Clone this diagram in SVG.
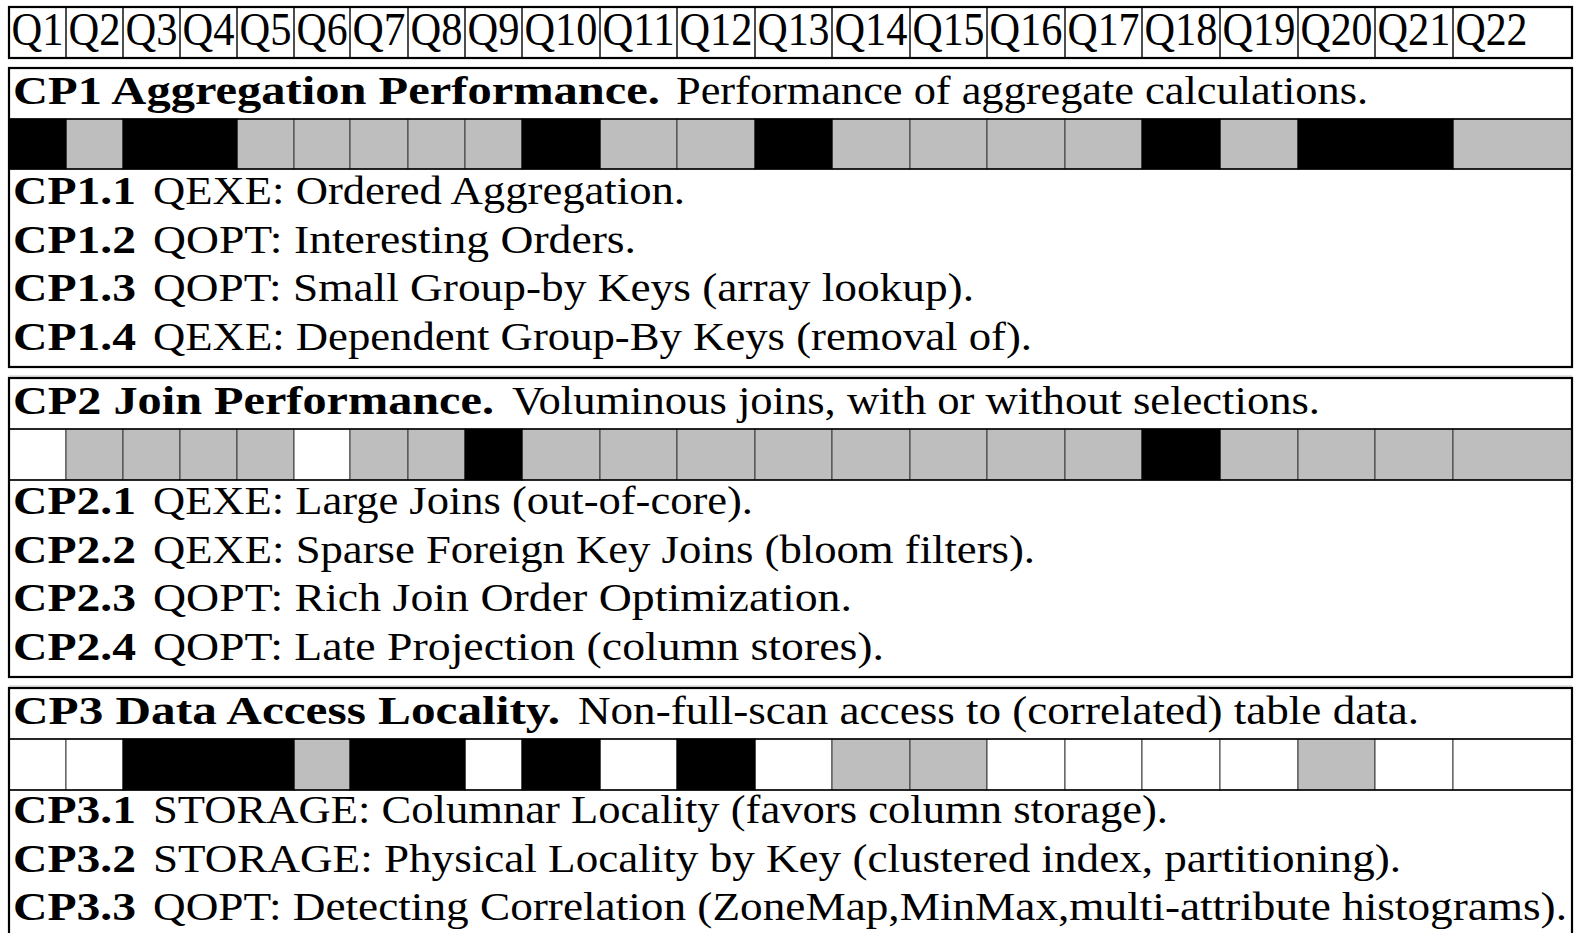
<svg xmlns="http://www.w3.org/2000/svg" width="1575" height="933" viewBox="0 0 1575 933">
<style>
text{font-family:"Liberation Serif","Times New Roman",serif;fill:#000}
.q{font-size:46px}
.b{font-size:41px;font-weight:bold}
.r{font-size:41px}
.box{fill:none;stroke:#000;stroke-width:2.2}
.sep{stroke:#000;stroke-width:1.6}
.hv{stroke:#000;stroke-width:1.4}
.k{fill:#000;stroke:#000;stroke-width:1}
.g{fill:#bebebe;stroke:#3a3a3a;stroke-width:1}
.w{fill:#fff;stroke:#3a3a3a;stroke-width:1}
.sh{stroke:#c8c8c8;stroke-width:1.2}
</style>
<rect x="0" y="0" width="1575" height="933" fill="#fff"/>
<g id="header">
<rect class="box" x="9" y="7" width="1563" height="51"/>
<line class="hv" x1="66" y1="7" x2="66" y2="58"/><line class="hv" x1="123" y1="7" x2="123" y2="58"/><line class="hv" x1="180" y1="7" x2="180" y2="58"/><line class="hv" x1="237" y1="7" x2="237" y2="58"/><line class="hv" x1="294" y1="7" x2="294" y2="58"/><line class="hv" x1="350" y1="7" x2="350" y2="58"/><line class="hv" x1="408" y1="7" x2="408" y2="58"/><line class="hv" x1="465" y1="7" x2="465" y2="58"/><line class="hv" x1="522" y1="7" x2="522" y2="58"/><line class="hv" x1="600" y1="7" x2="600" y2="58"/><line class="hv" x1="677" y1="7" x2="677" y2="58"/><line class="hv" x1="755" y1="7" x2="755" y2="58"/><line class="hv" x1="832" y1="7" x2="832" y2="58"/><line class="hv" x1="910" y1="7" x2="910" y2="58"/><line class="hv" x1="987" y1="7" x2="987" y2="58"/><line class="hv" x1="1065" y1="7" x2="1065" y2="58"/><line class="hv" x1="1142" y1="7" x2="1142" y2="58"/><line class="hv" x1="1220" y1="7" x2="1220" y2="58"/><line class="hv" x1="1298" y1="7" x2="1298" y2="58"/><line class="hv" x1="1375" y1="7" x2="1375" y2="58"/><line class="hv" x1="1453" y1="7" x2="1453" y2="58"/>
<text class="q" x="11.5" y="45" textLength="52" lengthAdjust="spacingAndGlyphs">Q1</text>
<text class="q" x="68.5" y="45" textLength="52" lengthAdjust="spacingAndGlyphs">Q2</text>
<text class="q" x="125.5" y="45" textLength="52" lengthAdjust="spacingAndGlyphs">Q3</text>
<text class="q" x="182.5" y="45" textLength="52" lengthAdjust="spacingAndGlyphs">Q4</text>
<text class="q" x="239.5" y="45" textLength="52" lengthAdjust="spacingAndGlyphs">Q5</text>
<text class="q" x="296.5" y="45" textLength="51" lengthAdjust="spacingAndGlyphs">Q6</text>
<text class="q" x="352.5" y="45" textLength="53" lengthAdjust="spacingAndGlyphs">Q7</text>
<text class="q" x="410.5" y="45" textLength="52" lengthAdjust="spacingAndGlyphs">Q8</text>
<text class="q" x="467.5" y="45" textLength="52" lengthAdjust="spacingAndGlyphs">Q9</text>
<text class="q" x="524.5" y="45" textLength="73" lengthAdjust="spacingAndGlyphs">Q10</text>
<text class="q" x="602.5" y="45" textLength="72" lengthAdjust="spacingAndGlyphs">Q11</text>
<text class="q" x="679.5" y="45" textLength="73" lengthAdjust="spacingAndGlyphs">Q12</text>
<text class="q" x="757.5" y="45" textLength="72" lengthAdjust="spacingAndGlyphs">Q13</text>
<text class="q" x="834.5" y="45" textLength="73" lengthAdjust="spacingAndGlyphs">Q14</text>
<text class="q" x="912.5" y="45" textLength="72" lengthAdjust="spacingAndGlyphs">Q15</text>
<text class="q" x="989.5" y="45" textLength="73" lengthAdjust="spacingAndGlyphs">Q16</text>
<text class="q" x="1067.5" y="45" textLength="72" lengthAdjust="spacingAndGlyphs">Q17</text>
<text class="q" x="1144.5" y="45" textLength="73" lengthAdjust="spacingAndGlyphs">Q18</text>
<text class="q" x="1222.5" y="45" textLength="73" lengthAdjust="spacingAndGlyphs">Q19</text>
<text class="q" x="1300.5" y="45" textLength="72" lengthAdjust="spacingAndGlyphs">Q20</text>
<text class="q" x="1377.5" y="45" textLength="73" lengthAdjust="spacingAndGlyphs">Q21</text>
<text class="q" x="1455.5" y="45" textLength="72" lengthAdjust="spacingAndGlyphs">Q22</text>
</g>
<g id="cp1">
<rect class="g" x="66" y="119" width="57" height="50"/><rect class="g" x="237" y="119" width="57" height="50"/><rect class="g" x="294" y="119" width="56" height="50"/><rect class="g" x="350" y="119" width="58" height="50"/><rect class="g" x="408" y="119" width="57" height="50"/><rect class="g" x="465" y="119" width="57" height="50"/><rect class="g" x="600" y="119" width="77" height="50"/><rect class="g" x="677" y="119" width="78" height="50"/><rect class="g" x="832" y="119" width="78" height="50"/><rect class="g" x="910" y="119" width="77" height="50"/><rect class="g" x="987" y="119" width="78" height="50"/><rect class="g" x="1065" y="119" width="77" height="50"/><rect class="g" x="1220" y="119" width="78" height="50"/><rect class="g" x="1453" y="119" width="119" height="50"/>
<rect class="k" x="9" y="119" width="57" height="50"/><rect class="k" x="123" y="119" width="114" height="50"/><rect class="k" x="522" y="119" width="78" height="50"/><rect class="k" x="755" y="119" width="77" height="50"/><rect class="k" x="1142" y="119" width="78" height="50"/><rect class="k" x="1298" y="119" width="155" height="50"/>
<line class="sep" x1="9" y1="119" x2="1572" y2="119"/><line class="sep" x1="9" y1="169" x2="1572" y2="169"/>
<rect class="box" x="9" y="68" width="1563" height="299"/>
<text class="b" x="13" y="104" textLength="647" lengthAdjust="spacingAndGlyphs">CP1 Aggregation Performance.</text>
<text class="r" x="676" y="104" textLength="692" lengthAdjust="spacingAndGlyphs">Performance of aggregate calculations.</text>
<text class="b" x="13" y="204" textLength="123" lengthAdjust="spacingAndGlyphs">CP1.1</text>
<text class="r" x="153" y="204" textLength="532" lengthAdjust="spacingAndGlyphs">QEXE: Ordered Aggregation.</text>
<text class="b" x="13" y="253" textLength="123" lengthAdjust="spacingAndGlyphs">CP1.2</text>
<text class="r" x="153" y="253" textLength="483" lengthAdjust="spacingAndGlyphs">QOPT: Interesting Orders.</text>
<text class="b" x="13" y="301" textLength="123" lengthAdjust="spacingAndGlyphs">CP1.3</text>
<text class="r" x="153" y="301" textLength="821" lengthAdjust="spacingAndGlyphs">QOPT: Small Group-by Keys (array lookup).</text>
<text class="b" x="13" y="350" textLength="123" lengthAdjust="spacingAndGlyphs">CP1.4</text>
<text class="r" x="153" y="350" textLength="879" lengthAdjust="spacingAndGlyphs">QEXE: Dependent Group-By Keys (removal of).</text>
</g>
<line class="sh" x1="9" y1="376" x2="1572" y2="376"/>
<g id="cp2">
<rect class="w" x="9" y="429" width="57" height="51"/><rect class="g" x="66" y="429" width="57" height="51"/><rect class="g" x="123" y="429" width="57" height="51"/><rect class="g" x="180" y="429" width="57" height="51"/><rect class="g" x="237" y="429" width="57" height="51"/><rect class="w" x="294" y="429" width="56" height="51"/><rect class="g" x="350" y="429" width="58" height="51"/><rect class="g" x="408" y="429" width="57" height="51"/><rect class="g" x="522" y="429" width="78" height="51"/><rect class="g" x="600" y="429" width="77" height="51"/><rect class="g" x="677" y="429" width="78" height="51"/><rect class="g" x="755" y="429" width="77" height="51"/><rect class="g" x="832" y="429" width="78" height="51"/><rect class="g" x="910" y="429" width="77" height="51"/><rect class="g" x="987" y="429" width="78" height="51"/><rect class="g" x="1065" y="429" width="77" height="51"/><rect class="g" x="1220" y="429" width="78" height="51"/><rect class="g" x="1298" y="429" width="77" height="51"/><rect class="g" x="1375" y="429" width="78" height="51"/><rect class="g" x="1453" y="429" width="119" height="51"/>
<rect class="k" x="465" y="429" width="57" height="51"/><rect class="k" x="1142" y="429" width="78" height="51"/>
<line class="sep" x1="9" y1="429" x2="1572" y2="429"/><line class="sep" x1="9" y1="480" x2="1572" y2="480"/>
<rect class="box" x="9" y="378" width="1563" height="299"/>
<text class="b" x="13" y="414" textLength="481" lengthAdjust="spacingAndGlyphs">CP2 Join Performance.</text>
<text class="r" x="512" y="414" textLength="808" lengthAdjust="spacingAndGlyphs">Voluminous joins, with or without selections.</text>
<text class="b" x="13" y="514" textLength="123" lengthAdjust="spacingAndGlyphs">CP2.1</text>
<text class="r" x="153" y="514" textLength="600" lengthAdjust="spacingAndGlyphs">QEXE: Large Joins (out-of-core).</text>
<text class="b" x="13" y="563" textLength="123" lengthAdjust="spacingAndGlyphs">CP2.2</text>
<text class="r" x="153" y="563" textLength="882" lengthAdjust="spacingAndGlyphs">QEXE: Sparse Foreign Key Joins (bloom filters).</text>
<text class="b" x="13" y="611" textLength="123" lengthAdjust="spacingAndGlyphs">CP2.3</text>
<text class="r" x="153" y="611" textLength="699" lengthAdjust="spacingAndGlyphs">QOPT: Rich Join Order Optimization.</text>
<text class="b" x="13" y="660" textLength="123" lengthAdjust="spacingAndGlyphs">CP2.4</text>
<text class="r" x="153" y="660" textLength="731" lengthAdjust="spacingAndGlyphs">QOPT: Late Projection (column stores).</text>
</g>
<line class="sh" x1="9" y1="686" x2="1572" y2="686"/>
<g id="cp3">
<rect class="w" x="9" y="739" width="57" height="51"/><rect class="w" x="66" y="739" width="57" height="51"/><rect class="g" x="294" y="739" width="56" height="51"/><rect class="w" x="465" y="739" width="57" height="51"/><rect class="w" x="600" y="739" width="77" height="51"/><rect class="w" x="755" y="739" width="77" height="51"/><rect class="g" x="832" y="739" width="78" height="51"/><rect class="g" x="910" y="739" width="77" height="51"/><rect class="w" x="987" y="739" width="78" height="51"/><rect class="w" x="1065" y="739" width="77" height="51"/><rect class="w" x="1142" y="739" width="78" height="51"/><rect class="w" x="1220" y="739" width="78" height="51"/><rect class="g" x="1298" y="739" width="77" height="51"/><rect class="w" x="1375" y="739" width="78" height="51"/><rect class="w" x="1453" y="739" width="119" height="51"/>
<rect class="k" x="123" y="739" width="171" height="51"/><rect class="k" x="350" y="739" width="115" height="51"/><rect class="k" x="522" y="739" width="78" height="51"/><rect class="k" x="677" y="739" width="78" height="51"/>
<line class="sep" x1="9" y1="739" x2="1572" y2="739"/><line class="sep" x1="9" y1="790" x2="1572" y2="790"/>
<rect class="box" x="9" y="688" width="1563" height="260"/>
<text class="b" x="13" y="724" textLength="547" lengthAdjust="spacingAndGlyphs">CP3 Data Access Locality.</text>
<text class="r" x="578" y="724" textLength="841" lengthAdjust="spacingAndGlyphs">Non-full-scan access to (correlated) table data.</text>
<text class="b" x="13" y="823" textLength="123" lengthAdjust="spacingAndGlyphs">CP3.1</text>
<text class="r" x="153" y="823" textLength="1015" lengthAdjust="spacingAndGlyphs">STORAGE: Columnar Locality (favors column storage).</text>
<text class="b" x="13" y="872" textLength="123" lengthAdjust="spacingAndGlyphs">CP3.2</text>
<text class="r" x="153" y="872" textLength="1248" lengthAdjust="spacingAndGlyphs">STORAGE: Physical Locality by Key (clustered index, partitioning).</text>
<text class="b" x="13" y="920" textLength="123" lengthAdjust="spacingAndGlyphs">CP3.3</text>
<text class="r" x="153" y="920" textLength="1414" lengthAdjust="spacingAndGlyphs">QOPT: Detecting Correlation (ZoneMap,MinMax,multi-attribute histograms).</text>
</g>
</svg>
